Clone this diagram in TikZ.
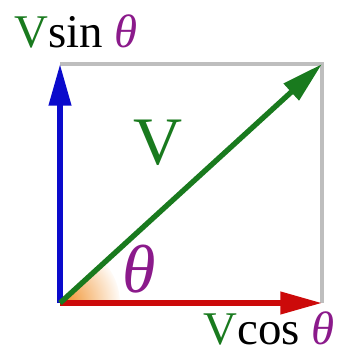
\documentclass[tikz,border=0pt]{standalone}
\usepackage{fontspec}
\setmainfont{Liberation Serif}
\usetikzlibrary{arrows.meta}
\definecolor{vgreen}{HTML}{197A1E}
\definecolor{vblue}{HTML}{0A0ACC}
\definecolor{vred}{HTML}{CC0A0A}
\definecolor{vpurple}{HTML}{8B1A8B}
\definecolor{vgray}{HTML}{BEBEBE}
\definecolor{vorange}{HTML}{F08A1E}
\begin{document}
\begin{tikzpicture}[x=0.03cm, y=-0.03cm,
  v/.style={line width=0.16cm, -{Triangle[length=1.25cm, width=0.65cm]}},
  t/.style={font=\fontsize{40}{40}\selectfont, inner sep=0pt},
  big/.style={font=\fontsize{58}{58}\selectfont, inner sep=0pt}
]
  \useasboundingbox (0,0) rectangle (343,356);
  % corners of the box
  \coordinate (O) at (60,303);
  \coordinate (A) at (60,64);
  \coordinate (B) at (322,64);
  \coordinate (C) at (322,303);
  % angle wedge
  \begin{scope}
    \clip (O) -- ++(60,0) arc[start angle=0, end angle=-42.4, radius=60] -- cycle;
    \shade[inner color=vorange, outer color=white] (O) circle (62);
  \end{scope}
  % box and components
  \draw[vgray, line width=0.12cm] (A) -- (B) -- (C);
  \draw[v, vblue] (O) -- (A);
  \draw[v, vred] (O) -- (C);
  \draw[v, vgreen] (O) -- (B);
  % labels
  \node[big, vgreen] (vlab) at (158,143) {V};
  \node[big, vpurple] (theta) at (139,269) {\textit{θ}};
  \node[t, anchor=base west] (vsin) at (14,47) {\textcolor{vgreen}{V}sin \textcolor{vpurple}{\textit{θ}}};
  \node[t, anchor=base east] (vcos) at (335,344) {\textcolor{vgreen}{V}cos \textcolor{vpurple}{\textit{θ}}};
\end{tikzpicture}
\end{document}
